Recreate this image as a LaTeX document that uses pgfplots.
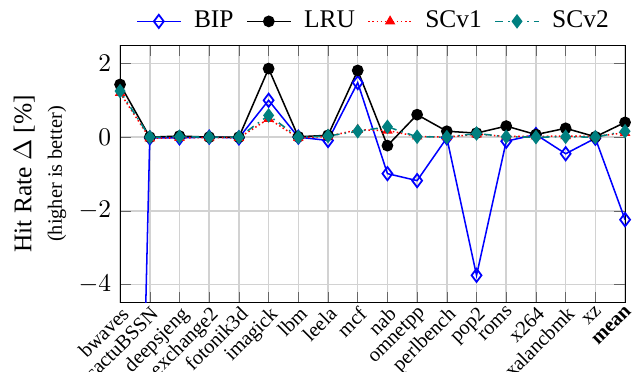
\documentclass[border=0pt]{standalone}
\usepackage{fontspec}
\setmainfont{Liberation Serif}
\usepackage{pgfplots}
\usepackage{pgfplotstable}
\pgfplotsset{compat=1.18}
\definecolor{scteal}{RGB}{0,128,128}
\pgfplotstableread{
x BIP LRU SCvone SCvtwo
0 -33.5 1.43 1.20 1.25
1 -0.02 0.00 -0.03 0.00
2 -0.02 0.03 -0.02 0.01
3 0.00 0.00 -0.01 0.00
4 -0.02 0.00 -0.02 0.00
5 1.00 1.86 0.50 0.59
6 0.00 0.01 -0.02 0.00
7 -0.09 0.05 0.02 0.03
8 1.48 1.81 0.20 0.16
9 -0.99 -0.23 0.18 0.28
10 -1.18 0.61 0.02 0.01
11 -0.02 0.16 0.00 0.00
12 -3.75 0.11 0.08 0.10
13 -0.11 0.30 0.02 0.01
14 0.07 0.07 0.02 0.00
15 -0.45 0.24 0.03 0.01
16 -0.03 0.01 0.02 0.00
17 -2.24 0.40 0.12 0.16
}\datatable
\begin{document}
\begin{tikzpicture}
\begin{axis}[
  scale only axis,
  width=198.5pt, height=101.4pt,
  xmin=0, xmax=17, ymin=-4.5, ymax=2.5,
  xtick={0,...,17},
  xticklabels={bwaves,cactuBSSN,deepsjeng,exchange2,fotonik3d,imagick,lbm,leela,mcf,nab,omnetpp,perlbench,pop2,roms,x264,xalancbmk,xz,\textbf{mean}},
  x tick label style={rotate=45, anchor=north east, font=\footnotesize, inner sep=0.5pt},
  ytick={-4,-2,0,2},
  y tick label style={font=\normalsize},
  grid=major,
  grid style={gray!35, line width=0.6pt},
  major tick style={gray!80!black},
  ylabel={Hit Rate $\Delta$ [\%]\\{\footnotesize (higher is better)}},
  ylabel style={align=center, font=\normalsize, yshift=-2pt},
  legend style={at={(0.5,1.02)}, anchor=south, xshift=1pt, draw=none, legend columns=-1, font=\normalsize, column sep=3pt, inner sep=1pt},
  legend cell align=left,
]
\addplot[blue, semithick, mark=diamond, mark size=2.6pt, mark options={solid, line width=0.7pt}] table[x=x, y=BIP] {\datatable};
\addlegendentry{BIP}
\addplot[black, semithick, mark=*, mark size=2pt] table[x=x, y=LRU] {\datatable};
\addlegendentry{LRU}
\addplot[red, semithick, densely dotted, mark=triangle*, mark size=1.8pt, mark options={solid}] table[x=x, y=SCvone] {\datatable};
\addlegendentry{SCv1}
\addplot[scteal, semithick, dash dot, mark=diamond*, mark size=2.4pt, mark options={solid}] table[x=x, y=SCvtwo] {\datatable};
\addlegendentry{SCv2}
\end{axis}
\pgfresetboundingbox
\path ([shift={(-47.2pt,-27.1pt)}]current axis.south west) rectangle ([shift={(4.3pt,17.7pt)}]current axis.north east);
\end{tikzpicture}
\end{document}
